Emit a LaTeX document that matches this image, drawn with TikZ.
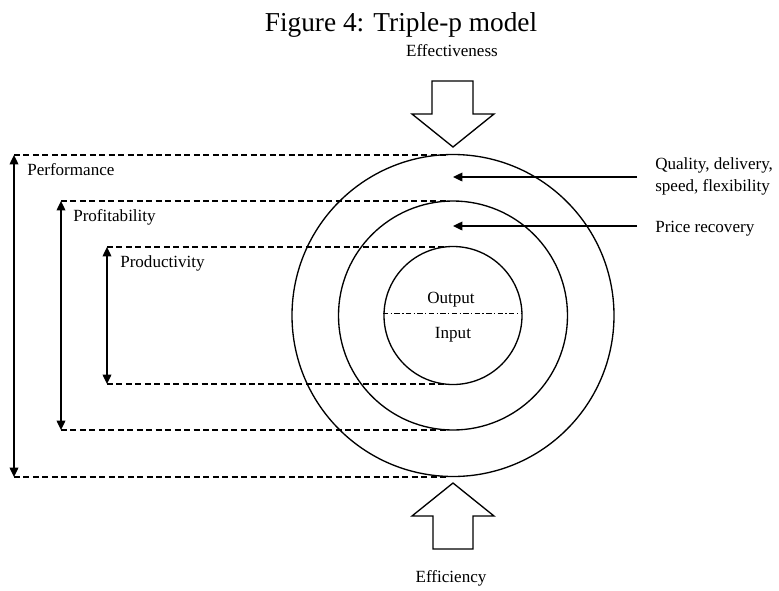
\documentclass[tikz,border=0pt]{standalone}
\usepackage{fontspec}
\setmainfont{Liberation Serif}
\usetikzlibrary{arrows.meta}
\begin{document}
\begin{tikzpicture}[x=0.75pt,y=-0.75pt,
  ring/.style={circle,draw,line width=1pt,inner sep=0pt,outer sep=0pt},
  guide/.style={line width=0.9pt,dash pattern=on 4.5pt off 2.6pt},
  span/.style={line width=1pt,{Triangle[length=7pt,width=6.5pt]}-{Triangle[length=7pt,width=6.5pt]}},
  pointer/.style={line width=1pt,-{Triangle[length=7pt,width=6.5pt]}},
  blockarrow/.style={line width=1pt,fill=white,line join=miter},
  lbl/.style={inner sep=0pt,font=\fontsize{12.8}{16.5}\selectfont},
  ttl/.style={inner sep=0pt,font=\fontsize{20.5}{24}\selectfont}
]
\useasboundingbox (0,0) rectangle (779,590);

% title and the two driving forces
\node[ttl,anchor=base] (title) at (401,31) {Figure 4: Triple-p model};
\node[lbl,anchor=base] (eff) at (452,56) {Effectiveness};
\node[lbl,anchor=base] (effi) at (451,582) {Efficiency};

% the three nested rings
\node[ring,minimum size=241.5pt] (outer) at (453,315.5) {};
\node[ring,minimum size=171.75pt] (middle) at (453,315.5) {};
\node[ring,minimum size=103.5pt] (inner) at (453,315.5) {};

% output / input split of the inner ring
\coordinate (splitL) at (383,313);
\coordinate (splitR) at (522,313);
\draw[line width=0.75pt,dash pattern=on 4pt off 1.8pt on 1pt off 1.8pt] (splitL) -- (splitR);
\node[lbl,anchor=base] (out) at (451,303) {Output};
\node[lbl,anchor=base] (in) at (453,338) {Input};

% block arrows
\draw[blockarrow] (432,81) -- (473,81) -- (473,114) -- (494,114) -- (453,147)
  -- (412,114) -- (432,114) -- cycle;
\draw[blockarrow] (453,483) -- (494,516) -- (473,516) -- (473,549) -- (433,549)
  -- (433,516) -- (412,516) -- cycle;

% level guides
\coordinate (pfT) at (14,155);  \coordinate (pfTe) at (447,155);
\coordinate (pfB) at (14,477);  \coordinate (pfBe) at (447,477);
\coordinate (prT) at (61,201);  \coordinate (prTe) at (447,201);
\coordinate (prB) at (61,430);  \coordinate (prBe) at (447,430);
\coordinate (pdT) at (107,247); \coordinate (pdTe) at (447,247);
\coordinate (pdB) at (107,384); \coordinate (pdBe) at (447,384);

\draw[guide] (pfT) -- (pfTe);
\draw[guide] (pfB) -- (pfBe);
\draw[guide] (prT) -- (prTe);
\draw[guide] (prB) -- (prBe);
\draw[guide] (pdT) -- (pdTe);
\draw[guide] (pdB) -- (pdBe);

\draw[span] (pfT) -- (pfB);
\draw[span] (prT) -- (prB);
\draw[span] (pdT) -- (pdB);

\node[lbl,anchor=base west] (perf) at (27,175) {Performance};
\node[lbl,anchor=base west] (prof) at (73,221) {Profitability};
\node[lbl,anchor=base west] (prod) at (120,267) {Productivity};

% external factors
\coordinate (qS) at (637,177); \coordinate (qE) at (453,177);
\coordinate (pS) at (637,226); \coordinate (pE) at (453,226);
\draw[pointer] (qS) -- (qE);
\draw[pointer] (pS) -- (pE);
\node[lbl,anchor=base west] (qual) at (655,169) {Quality, delivery,};
\node[lbl,anchor=base west] (qual2) at (655,191) {speed, flexibility};
\node[lbl,anchor=base west] (price) at (655,232) {Price recovery};
\end{tikzpicture}
\end{document}
